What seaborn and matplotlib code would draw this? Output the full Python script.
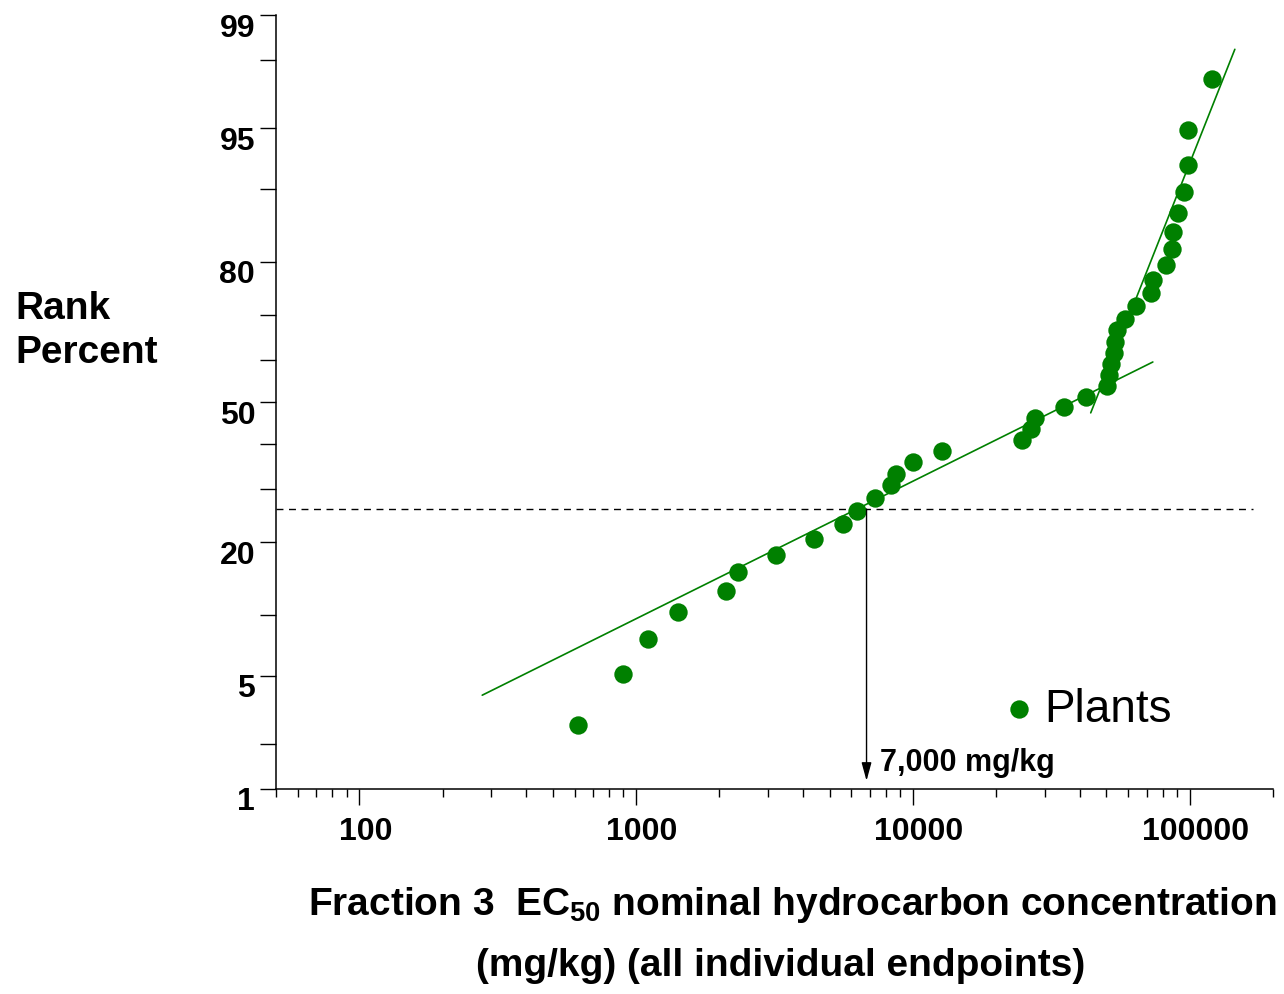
import numpy as np
import pandas as pd
import matplotlib
matplotlib.use("Agg")
import matplotlib.pyplot as plt
import matplotlib.transforms as mtransforms
import seaborn as sns
from statistics import NormalDist

# ---- data ----
conc_mgkg = [617, 895, 1102, 1413, 2105, 2326, 3190, 4407, 5610, 6303,
             7318, 8356, 8712, 10030, 12760, 24820, 26740, 27630, 35150, 42200,
             50240, 51080, 51940, 53230, 53670, 54570, 58330, 63950, 72410, 73660,
             82000, 86150, 86870, 90530, 95240, 98430, 98430, 120200]
rank_pct = [2.6, 5.1, 7.7, 10.3, 12.8, 15.4, 17.9, 20.5, 23.1, 25.6,
            28.2, 30.8, 33.3, 35.9, 38.5, 41.0, 43.6, 46.2, 48.7, 51.3,
            53.8, 56.4, 59.0, 61.5, 64.1, 66.7, 69.2, 71.8, 74.4, 76.9,
            79.5, 82.1, 84.6, 87.2, 89.7, 92.3, 94.9, 97.4]
fit1_x = [278, 73600]
fit1_y = [3.9, 59.5]
fit2_x = [43900, 145600]
fit2_y = [47.4, 98.3]
hline_x = [50, 169000]
hline_y = [26.0, 26.0]
hc_value = 6800
hc_label = "7,000 mg/kg"
y_major = [1, 5, 20, 50, 80, 95, 99]
y_minor = [2, 10, 30, 40, 60, 70, 90, 98]
x_major = [100, 1000, 10000, 100000]
x_major_labels = ["100", "1000", "10000", "100000"]
series_name = "Plants"

df = pd.DataFrame({"conc": conc_mgkg, "rank": rank_pct})

sns.set_style("white")
plt.rcParams["font.family"] = ["Liberation Sans", "DejaVu Sans"]
plt.rcParams["mathtext.fontset"] = "custom"
plt.rcParams["mathtext.rm"] = "Liberation Sans:bold"
plt.rcParams["mathtext.bf"] = "Liberation Sans:bold"
plt.rcParams["mathtext.it"] = "Liberation Sans:bold"
for k in ["text.color", "xtick.color", "ytick.color", "axes.labelcolor", "axes.edgecolor"]:
    plt.rcParams[k] = "black"

W, H = 1284, 995
fig = plt.figure(figsize=(W / 100, H / 100), dpi=100)
ax = fig.add_axes([276 / W, (H - 790) / H, (1273 - 276) / W, (790 - 16) / H])

_nd = NormalDist()
_ppf = np.vectorize(_nd.inv_cdf, otypes=[float])
_cdf = np.vectorize(_nd.cdf, otypes=[float])


def fwd(p):
    p = np.clip(np.asarray(p, dtype=float) / 100.0, 1e-9, 1 - 1e-9)
    return _ppf(p)


def inv(z):
    return _cdf(np.asarray(z, dtype=float)) * 100.0


ax.set_xscale("log")
ax.set_yscale("function", functions=(fwd, inv))

green = "#008000"
sns.scatterplot(data=df, x="conc", y="rank", ax=ax, color=green, s=175,
                linewidth=0, label=series_name, zorder=3)
sns.lineplot(x=fit1_x, y=fit1_y, ax=ax, color=green, lw=1.2, sort=False)
sns.lineplot(x=fit2_x, y=fit2_y, ax=ax, color=green, lw=1.2, sort=False)
ax.plot(hline_x, hline_y, color="black", lw=1.0, ls=(0, (5, 4)))

ax.annotate("", xy=(hc_value, 1.14), xytext=(hc_value, 26.0),
            arrowprops=dict(arrowstyle="-|>,head_length=1.1,head_width=0.3",
                            color="black", lw=1.0, shrinkA=0, shrinkB=0))
ax.text(7630, 1.35, hc_label, fontsize=22, fontweight="bold",
        ha="left", va="baseline")

ax.set_xlim(50, 200000)
ax.set_ylim(1, 99)

ax.set_xticks(x_major)
ax.set_xticklabels(x_major_labels)
ax.xaxis.set_minor_locator(matplotlib.ticker.LogLocator(base=10, subs=np.arange(2, 10)))
ax.xaxis.set_minor_formatter(matplotlib.ticker.NullFormatter())
ax.set_yticks(y_major)
ax.set_yticklabels([str(v) for v in y_major])
ax.set_yticks(y_minor, minor=True)
ax.yaxis.set_minor_formatter(matplotlib.ticker.NullFormatter())

ax.tick_params(axis="x", which="major", direction="out", length=11.5, width=1.0,
               pad=8, labelsize=23, color="black", bottom=True)
ax.tick_params(axis="x", which="minor", direction="out", length=5.8, width=1.0,
               color="black", bottom=True)
ax.tick_params(axis="y", which="both", direction="out", length=11.5, width=1.0,
               pad=3.5, labelsize=23, color="black", left=True)
for lab in ax.get_xticklabels() + ax.get_yticklabels():
    lab.set_fontweight("bold")
off = mtransforms.ScaledTranslation(0, -9 / 100, fig.dpi_scale_trans)
for lab in ax.get_yticklabels():
    lab.set_transform(lab.get_transform() + off)
xoff = mtransforms.ScaledTranslation(6 / 100, 0, fig.dpi_scale_trans)
for lab in ax.get_xticklabels():
    lab.set_transform(lab.get_transform() + xoff)

for s in ["top", "right"]:
    ax.spines[s].set_visible(False)
for s in ["left", "bottom"]:
    ax.spines[s].set_color("black")
    ax.spines[s].set_linewidth(1.1)

ax.set_xlabel("")
ax.set_ylabel("")

leg = ax.legend(loc="center left", bbox_to_anchor=(1008 / W, 1 - 710 / H),
                bbox_transform=fig.transFigure, frameon=False, fontsize=33,
                borderaxespad=0, borderpad=0, handlelength=0.5,
                handletextpad=0.3, markerscale=1.0)

fig.text(15 / W, 1 - 331 / H, "Rank\nPercent", fontsize=28, fontweight="bold",
         ha="left", va="center", linespacing=1.3)
fig.text(792 / W, 1 - 915 / H, "Fraction 3  EC$_{50}$ nominal hydrocarbon concentration",
         fontsize=28, fontweight="bold", ha="center", va="baseline")
fig.text(781 / W, 1 - 976 / H, "(mg/kg) (all individual endpoints)",
         fontsize=28, fontweight="bold", ha="center", va="baseline")

fig.savefig("out.png", dpi=100)
